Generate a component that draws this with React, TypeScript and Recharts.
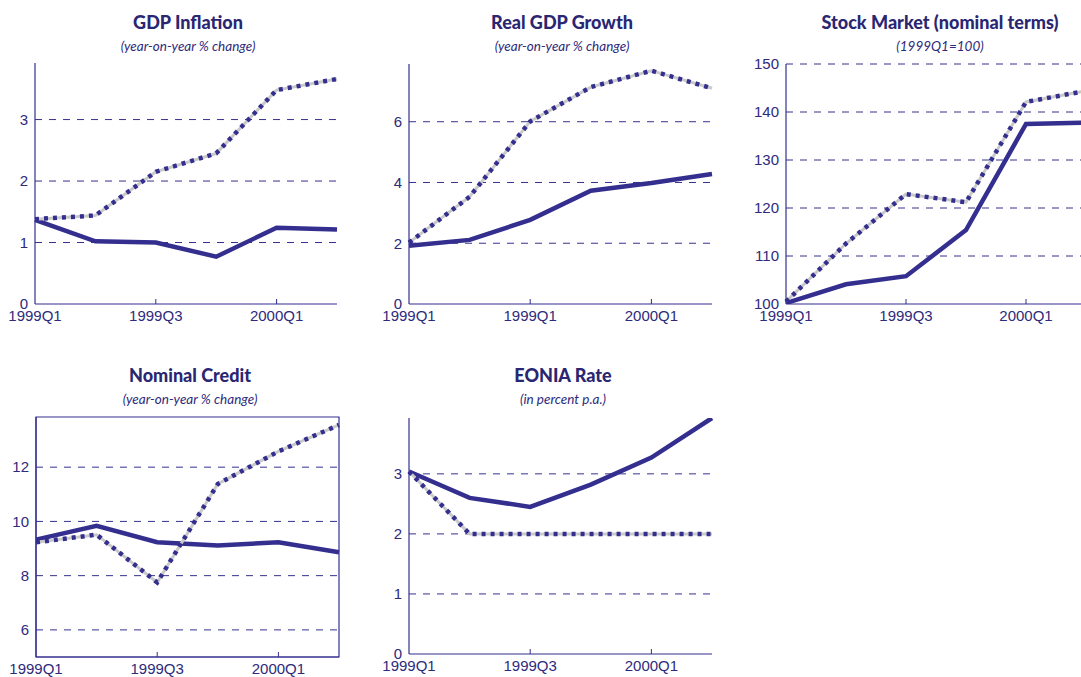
import { LineChart, Line, XAxis, YAxis, CartesianGrid, ReferenceArea } from 'recharts';

const quarters = ['1999Q1', '1999Q2', '1999Q3', '1999Q4', '2000Q1', '2000Q2'];

const inflationBase = [1.37, 1.02, 1.0, 0.77, 1.24, 1.21];
const inflationAlt = [1.38, 1.44, 2.15, 2.45, 3.48, 3.66];
const growthBase = [1.92, 2.11, 2.77, 3.73, 3.98, 4.28];
const growthAlt = [2.02, 3.53, 6.01, 7.14, 7.68, 7.1];
const stockBase = [100.2, 104.1, 105.8, 115.4, 137.5, 137.8];
const stockAlt = [100.5, 112.6, 122.9, 121.2, 142.1, 144.4];
const creditBase = [9.33, 9.84, 9.23, 9.11, 9.23, 8.86];
const creditAlt = [9.23, 9.51, 7.75, 11.38, 12.58, 13.56];
const eoniaBase = [3.04, 2.6, 2.45, 2.82, 3.27, 3.93];
const eoniaAlt = [3.04, 2.0, 2.0, 2.0, 2.0, 2.0];

const labelsDefault = ['1999Q1', '', '1999Q3', '', '2000Q1', ''];
const labelsGrowth = ['1999Q1', '', '1999Q1', '', '2000Q1', ''];

const NAVY = '#342f8f';
const TEXT = '#2e2a7c';
const GRID = '#35318c';
const TICK_FONT = '"Liberation Sans", Arial, sans-serif';
const TITLE_FONT = 'Lato, "Open Sans", sans-serif';

const build = (base: number[], alt: number[]) =>
  quarters.map((q, i) => ({ q, base: base[i], alt: alt[i] }));

interface PanelProps {
  title: string;
  subtitle: string;
  cx: number;
  titleY: number;
  left: number;
  top: number;
  w: number;
  h: number;
  base: number[];
  alt: number[];
  domain: [number, number];
  yTicks: number[];
  labels: string[];
  boxed?: boolean;
}

const Y_W = 40;
const M_TOP = 10;
const M_RIGHT = 10;
const X_H = 30;

function Panel(p: PanelProps) {
  const data = build(p.base, p.alt);
  const BottomTick = (props: any) => {
    const { x, y, payload } = props;
    const idx = quarters.indexOf(payload.value);
    const label = p.labels[idx] ?? '';
    return (
      <g>
        {label && idx > 0 && <line x1={x} x2={x} y1={y} y2={y - 5} stroke={NAVY} strokeWidth={1} />}
        <text x={x} y={y + 17} textAnchor="middle" fill={TEXT} fontSize={15} fontFamily={TICK_FONT}>
          {label}
        </text>
      </g>
    );
  };

  return (
    <>
      <div
        style={{
          position: 'absolute', left: p.cx - 200, width: 400, top: p.titleY - 12, textAlign: 'center',
          fontFamily: TITLE_FONT, fontWeight: 900, fontSize: 18, color: '#2a2672', lineHeight: '24px',
        }}
      >
        {p.title}
      </div>
      <div
        style={{
          position: 'absolute', left: p.cx - 200, width: 400, top: p.titleY + 15, textAlign: 'center',
          fontFamily: TITLE_FONT, fontStyle: 'italic', fontSize: 13.5, color: TEXT, lineHeight: '18px',
        }}
      >
        {p.subtitle}
      </div>
      <div style={{ position: 'absolute', left: p.left - Y_W, top: p.top - M_TOP }}>
        <LineChart
          width={Y_W + p.w + M_RIGHT}
          height={M_TOP + p.h + X_H}
          data={data}
          margin={{ top: M_TOP, right: M_RIGHT, left: 0, bottom: 0 }}
        >
          <CartesianGrid
            vertical={false}
            horizontalValues={p.yTicks.filter((t) => t > p.domain[0])}
            stroke={GRID}
            strokeDasharray="7 7"
            strokeWidth={1}
          />
          <XAxis
            dataKey="q"
            height={X_H}
            interval={0}
            tickLine={false}
            tickSize={0}
            tickMargin={0}
            axisLine={{ stroke: NAVY, strokeWidth: 1.2 }}
            tick={BottomTick}
          />
          <YAxis
            width={Y_W}
            domain={p.domain}
            ticks={p.yTicks}
            allowDataOverflow
            tickLine={false}
            tickSize={5}
            tickMargin={2}
            axisLine={{ stroke: NAVY, strokeWidth: 1.2 }}
            tick={{ fill: TEXT, fontSize: 15, fontFamily: TICK_FONT }}
          />
          {p.boxed && (
            <ReferenceArea
              x1={quarters[0]}
              x2={quarters[quarters.length - 1]}
              y1={p.domain[0]}
              y2={p.domain[1]}
              fill="none"
              stroke={NAVY}
              strokeWidth={1.2}
              ifOverflow="visible"
            />
          )}
          <Line
            type="linear"
            dataKey="base"
            stroke={NAVY}
            strokeWidth={4.5}
            dot={false}
            activeDot={false}
            isAnimationActive={false}
          />
          <Line
            type="linear"
            dataKey="alt"
            stroke="#c9c9c9"
            strokeWidth={3}
            dot={false}
            activeDot={false}
            isAnimationActive={false}
          />
          <Line
            type="linear"
            dataKey="alt"
            stroke={NAVY}
            strokeWidth={4.5}
            strokeDasharray="4 5"
            dot={false}
            activeDot={false}
            isAnimationActive={false}
          />
        </LineChart>
      </div>
    </>
  );
}

export default function App() {
  return (
    <div
      style={{
        position: 'fixed', left: 0, top: 0, width: 1081, height: 677, overflow: 'hidden', background: '#fff',
      }}
    >
      <Panel
        title="GDP Inflation" subtitle="(year-on-year % change)" cx={188} titleY={22}
        left={35} top={63} w={302} h={241}
        base={inflationBase} alt={inflationAlt} domain={[0, 3.92]} yTicks={[0, 1, 2, 3]} labels={labelsDefault}
      />
      <Panel
        title="Real GDP Growth" subtitle="(year-on-year % change)" cx={562} titleY={22}
        left={409} top={64} w={303} h={240}
        base={growthBase} alt={growthAlt} domain={[0, 7.9]} yTicks={[0, 2, 4, 6]} labels={labelsGrowth}
      />
      <Panel
        title="Stock Market (nominal terms)" subtitle="(1999Q1=100)" cx={940} titleY={22}
        left={786} top={64} w={300} h={240}
        base={stockBase} alt={stockAlt} domain={[100, 150]} yTicks={[100, 110, 120, 130, 140, 150]} labels={labelsDefault}
      />
      <Panel
        title="Nominal Credit" subtitle="(year-on-year % change)" cx={190} titleY={375}
        left={36} top={417} w={303} h={240} boxed
        base={creditBase} alt={creditAlt} domain={[5, 13.85]} yTicks={[6, 8, 10, 12]} labels={labelsDefault}
      />
      <Panel
        title="EONIA Rate" subtitle="(in percent p.a.)" cx={563} titleY={375}
        left={409} top={418} w={303} h={236}
        base={eoniaBase} alt={eoniaAlt} domain={[0, 3.93]} yTicks={[0, 1, 2, 3]} labels={labelsDefault}
      />
    </div>
  );
}
